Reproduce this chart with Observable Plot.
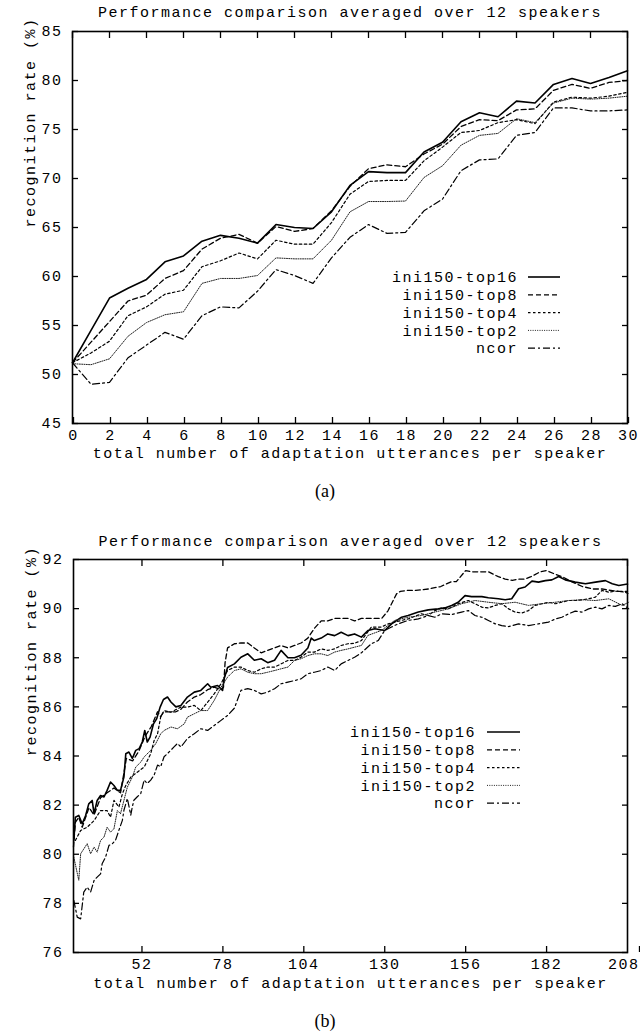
<!DOCTYPE html>
<html><head><meta charset="utf-8">
<script src="https://cdn.jsdelivr.net/npm/d3@7"></script>
<script src="https://cdn.jsdelivr.net/npm/@observablehq/plot@0.6"></script>
<style>
body{margin:0;background:#fff;width:640px;height:1036px;position:relative;overflow:hidden}
.blk{position:absolute;left:0}
.cap{position:absolute;left:0;width:650px;text-align:center;font-family:"Liberation Serif","Times New Roman",serif;font-size:18px;color:#000}
</style></head><body>
<div id="a" class="blk" style="top:0px"></div>
<div class="cap" style="top:481px">(a)</div>
<div id="b" class="blk" style="top:530px"></div>
<div class="cap" style="top:1011px">(b)</div>
<script>
// ---------- shared text ----------
const titleText = "Performance comparison averaged over 12 speakers";
const xLabel = "total number of adaptation utterances per speaker";
const yLabel = "recognition rate (%)";
const seriesNames = ["ini150-top16", "ini150-top8", "ini150-top4", "ini150-top2", "ncor"];

// ---------- chart (a) ----------
const aX = d3.range(0, 31);
const aTop16 = [51.2,54.5,57.8,58.8,59.7,61.5,62.1,63.6,64.2,63.9,63.4,65.3,65.0,64.9,66.6,69.3,70.7,70.6,70.6,72.7,73.7,75.8,76.7,76.3,77.9,77.7,79.6,80.2,79.7,80.3,81.0];
const aTop8  = [51.2,53.3,55.4,57.5,58.1,59.8,60.6,62.8,63.9,64.3,63.4,65.1,64.6,64.9,66.7,69.2,71.0,71.4,71.2,72.5,73.5,75.3,76.0,75.9,77.0,77.1,79.0,79.6,79.2,79.8,80.0];
const aTop4  = [51.2,52.2,53.4,56.0,56.9,58.2,58.6,61.0,61.6,62.4,61.8,63.7,63.3,63.3,65.5,68.4,69.7,69.8,69.8,71.8,73.2,74.7,74.9,75.7,76.0,75.6,77.8,78.3,78.2,78.4,78.8];
const aTop2  = [51.1,51.0,51.6,53.9,55.3,56.1,56.4,59.3,59.8,59.8,60.1,61.9,61.8,61.8,63.7,66.6,67.65,67.65,67.7,70.1,71.3,73.4,74.4,74.6,76.1,75.7,77.7,78.2,78.1,78.2,78.4];
const aNcor  = [51.2,49.0,49.2,51.7,53.0,54.3,53.6,56.0,56.9,56.8,58.5,60.7,60.1,59.3,61.9,64.0,65.3,64.4,64.5,66.7,67.9,70.8,71.9,72.0,74.4,74.7,77.2,77.2,76.9,76.9,77.0];
const aXTicks = d3.range(0, 31, 2);
const aYTicks = [45,50,55,60,65,70,75,80,85];

// ---------- chart (b) ----------
const bTop16X = [30.1,30.6,31.7,32.8,33.9,34.9,36.0,36.6,37.6,38.7,39.8,40.8,41.9,43.0,44.1,45.1,46.2,46.8,47.8,48.9,50.0,51.1,52.1,52.9,53.7,54.6,55.7,56.7,57.8,58.9,60.2,61.3,62.9,64.5,66.6,68.8,70.9,73.1,74.1,76.3,77.9,78.4,79.5,81.7,83.8,86.0,88.1,90.3,92.4,94.6,96.7,98.9,101.0,103.1,105.3,106.4,107.4,109.6,111.7,113.9,116.0,118.2,120.3,122.5,124.6,126.8,130.0,132.2,135.4,137.5,140.8,144.0,147.2,149.3,151.5,153.6,155.8,157.9,161.2,163.3,166.5,168.7,170.8,173.0,175.1,177.3,179.4,181.6,183.7,185.9,188.0,191.2,194.5,197.7,200.9,203.1,205.2,208];
const bTop16Y = [80.56,81.51,81.58,81.24,81.58,82.05,82.19,81.65,82.19,82.39,82.33,82.6,82.94,82.8,82.6,82.6,83.14,84.09,84.16,83.9,84.23,84.3,84.57,85.04,84.57,84.77,85.31,85.51,85.98,86.3,86.4,86.2,86.0,86.06,86.4,86.6,86.67,86.94,86.8,86.87,86.67,87.14,87.6,87.75,88.02,88.16,87.9,87.96,87.8,87.9,88.3,88.0,88.0,88.1,88.4,88.8,88.7,88.8,88.97,88.9,89.04,88.9,88.97,88.84,89.11,89.18,89.11,89.38,89.65,89.72,89.86,89.95,89.99,90.03,90.13,90.26,90.53,90.49,90.49,90.44,90.4,90.36,90.4,90.81,90.88,91.12,91.08,91.14,91.17,91.31,91.17,91.08,91.01,91.08,91.14,91.01,90.94,91.0];

const bTop8X = [30,30.6,31.7,32.8,33.9,35,36.6,38.7,40.8,43,45.1,47,49,51,53,55,57,58,59,60.2,62.9,64.5,66.6,68.8,70.9,73.1,75.2,77.3,78.2,78.7,79.5,81.7,83.8,86,88.1,90.3,92.4,94.6,96.7,98.9,101,103.1,105.3,107.4,109.6,111.7,113.9,116,118.2,120.3,122.5,124.6,126.8,129,131,133.8,135,137,140,144,148,151.5,153,156,158,161.2,163.3,166.5,168.7,171,173,175,177,180,182,184.8,187,190,193.5,197,199.8,202,205.2,208];
const bTop8Y = [80.3,81.3,81.5,81.1,81.5,81.9,81.6,82.3,82.5,82.7,82.5,83.9,83.8,84.2,84.8,85.2,85.8,85.6,85.8,85.8,85.8,85.9,86.2,86.4,86.5,86.7,86.8,86.7,86.8,87.8,88.4,88.57,88.6,88.6,88.4,88.2,88.3,88.4,88.5,88.4,88.5,88.6,88.8,89.2,89.5,89.5,89.6,89.6,89.6,89.5,89.6,89.6,89.6,89.6,89.9,90.6,90.7,90.74,90.74,90.8,90.9,91.1,91.1,91.55,91.5,91.5,91.5,91.3,91.2,91.15,91.2,91.2,91.3,91.5,91.55,91.4,91.3,91.1,90.9,90.8,90.8,90.75,90.7,90.7];

const bTop4X = [30.6,32.3,34.4,36.6,38.7,40.8,41.9,43.0,44.6,45.7,46.8,48.4,50.5,52.7,54.8,55.9,57.0,58.0,59.1,61.3,62.3,64.5,66.6,68.8,70.9,73.1,75.2,77.4,78.4,79.5,81.7,83.8,86.0,88.1,90.3,92.4,94.6,96.7,98.9,101.0,103.1,105.3,107.4,109.6,111.7,113.9,116.0,118.2,120.3,122.5,125.7,128.9,131.1,133.2,135.4,137.5,141.8,144.0,146.1,148.3,150.4,153.6,156.9,159.0,161.2,163.3,165.5,167.6,169.8,171.9,174.0,176.2,178.3,180.5,182.6,184.8,186.9,189.1,191.2,193.4,195.5,197.7,199.8,202.0,204.1,207.3,208.4];
const bTop4Y = [80.56,80.97,81.1,81.37,81.78,81.78,81.51,82.19,81.92,82.46,82.8,83.14,83.34,83.55,84.09,84.63,84.9,85.58,85.85,85.78,85.85,85.99,85.99,86.06,85.85,86.19,86.53,86.94,87.21,87.48,87.62,87.62,87.48,87.41,87.55,87.62,87.62,87.75,87.89,87.89,88.02,88.23,88.23,88.36,88.3,88.36,88.5,88.57,88.59,88.7,89.25,89.25,89.38,89.45,89.52,89.58,89.79,89.72,89.92,90.03,89.99,90.2,90.33,90.2,90.06,90.03,90.13,90.2,89.99,89.86,89.82,89.92,90.13,90.2,90.26,90.2,90.26,90.33,90.33,90.36,90.4,90.47,90.74,90.67,90.71,90.67,90.6];

const bTop2X = [30.1,31.7,32.3,34.4,35.5,36.6,37.6,38.7,39.8,40.8,41.9,43.0,44.1,45.1,46.2,47.3,48.9,50.0,51.6,52.7,54.8,56.4,58.0,59.1,61.3,63.4,65.6,66.6,68.8,70.9,73.1,75.2,77.4,79.5,80.6,81.7,83.8,86.0,88.1,90.3,92.4,94.6,96.7,98.9,101.0,103.1,105.3,107.4,109.6,111.7,113.9,116.0,118.2,120.3,122.5,124.6,128.9,133.2,137.5,141.8,146.1,150.4,154.7,159.0,163.3,167.6,171.9,176.2,180.5,184.8,189.1,193.4,197.7,202.0,206.3,208.4];
const bTop2Y = [79.88,78.94,80.02,80.43,80.02,80.29,80.09,80.56,80.7,81.1,80.9,81.04,81.78,81.65,82.19,82.73,83.14,83.55,83.75,83.96,84.23,84.5,84.9,85.04,85.18,85.11,85.31,85.58,85.72,85.85,85.85,86.26,86.8,87.21,87.35,87.48,87.55,87.41,87.35,87.35,87.41,87.48,87.55,87.62,87.89,87.96,88.09,88.16,88.16,88.09,88.23,88.3,88.36,88.43,88.5,88.91,89.11,89.52,89.65,89.72,89.86,89.99,90.2,90.33,90.26,90.2,90.26,90.13,90.2,90.26,90.33,90.36,90.33,90.4,90.13,90.26];

const bNcorX = [30.1,31.2,32.3,33.3,34.4,35.5,36.6,37.6,38.7,39.2,40.3,41.4,42.5,43.5,44.6,45.7,46.2,47.3,48.4,48.9,49.4,50.5,51.6,52.7,53.7,54.8,55.9,57.0,58.0,59.1,60.2,61.3,62.3,63.4,64.5,66.6,68.8,70.9,73.1,75.2,77.4,79.5,81.7,83.8,86.0,88.1,90.3,92.4,94.6,96.7,98.9,101.0,103.1,105.3,107.4,109.6,111.7,113.9,116.0,118.2,120.3,122.5,125.7,127.9,130.0,132.2,134.3,137.5,140.8,144.0,146.1,148.3,151.5,154.7,156.9,159.0,161.2,163.3,165.5,167.6,169.8,173.0,176.2,179.4,182.6,184.8,186.9,189.1,191.2,193.4,195.5,197.7,199.8,202.0,204.1,206.3,208.4];
const bNcorY = [78.12,77.44,77.37,78.46,78.66,78.46,78.93,79.07,79.2,79.61,79.88,80.36,80.43,80.57,80.98,81.38,81.79,82.27,81.59,81.93,82.2,82.34,82.47,83.02,82.88,83.02,83.22,83.63,83.56,83.97,84.1,84.24,84.37,84.51,84.37,84.71,84.91,85.11,85.04,85.24,85.45,85.65,85.95,86.67,86.74,86.67,86.53,86.6,86.74,86.94,87.01,87.07,87.14,87.35,87.41,87.48,87.62,87.48,87.75,87.89,88.02,88.2,88.57,88.7,89.11,89.25,89.38,89.52,89.58,89.72,89.65,89.79,89.76,89.86,89.92,89.72,89.65,89.52,89.38,89.31,89.27,89.38,89.31,89.38,89.45,89.58,89.65,89.79,89.9,89.86,89.99,90.06,89.99,90.13,90.09,90.2,89.99];
const bXTicks = [52,78,104,130,156,182,208];
const bYTicks = [76,78,80,82,84,86,88,90,92];

// ---------- styles ----------
const FONT = "Liberation Mono, Courier New, monospace";
const styles = [
  {stroke:"#000", strokeWidth:1.6, dash:null},
  {stroke:"#000", strokeWidth:1.3, dash:"5,3"},
  {stroke:"#000", strokeWidth:1.2, dash:"2.5,2.5"},
  {stroke:"#222", strokeWidth:1.0, dash:"1,1.3"},
  {stroke:"#000", strokeWidth:1.2, dash:"7,3,2,3"}
];

function toRows(xs, ys, name) { return xs.map((x, i) => ({x, y: ys[i], s: name})); }

function buildChart({series, xDomain, yDomain, xTicks, yTicks, height, margins, titleDy, xLabelDy, xTickDx, endAnchorLast, legend}) {
  const marks = [];
  series.forEach((rows, i) => {
    const st = styles[i];
    marks.push(Plot.line(rows, {x:"x", y:"y", stroke:st.stroke, strokeWidth:st.strokeWidth,
      strokeDasharray:st.dash, strokeLinejoin:"round", curve:"linear"}));
  });
  const mainXTicks = endAnchorLast ? xTicks.slice(0, -1) : xTicks;
  marks.push(
    Plot.axisX(mainXTicks, {anchor:"bottom", label:null, tickSize:-6, tickPadding:12, dx:xTickDx, tickFormat:d=>String(d), strokeWidth:1.3})
  );
  if (endAnchorLast) {
    marks.push(Plot.axisX(xTicks.slice(-1), {anchor:"bottom", label:null, tickSize:-6, tickPadding:12, textAnchor:"end", dx:12, tickFormat:d=>String(d), strokeWidth:1.3}));
  }
  marks.push(
    Plot.axisX(xTicks, {anchor:"top", label:null, tickSize:-6, tickFormat:()=> "", strokeWidth:1.3}),
    Plot.axisY(yTicks, {anchor:"left", label:null, tickSize:-6, tickPadding:16, tickFormat:d=>String(d), strokeWidth:1.3}),
    Plot.axisY(yTicks, {anchor:"right", label:null, tickSize:-6, tickFormat:()=> "", strokeWidth:1.3}),
    Plot.frame({stroke:"#000", strokeWidth:1.6}),
    Plot.text([titleText], {frameAnchor:"top", dy:titleDy, text:d=>d, lineAnchor:"middle"}),
    Plot.text([xLabel], {frameAnchor:"bottom", dy:xLabelDy, text:d=>d, lineAnchor:"middle"}),
    Plot.text([yLabel], {frameAnchor:"left", dx:-42, rotate:-90, text:d=>d, lineAnchor:"middle"})
  );
  const svg = Plot.plot({
    width:640, height,
    marginLeft:margins[0], marginRight:margins[1], marginTop:margins[2], marginBottom:margins[3],
    x:{domain:xDomain, axis:null}, y:{domain:yDomain, axis:null},
    style:{fontFamily:FONT, fontSize:"15px", letterSpacing:"1.5px", color:"#000", background:"#fff"},
    marks
  });
  // legend (inside same svg, positioned in frame pixels)
  const g = d3.select(svg).append("g").attr("font-family", FONT).attr("font-size", 15).attr("letter-spacing", "1.5px");
  seriesNames.forEach((name, i) => {
    const yy = legend.y + i * legend.dy;
    g.append("text").attr("x", legend.textRight).attr("y", yy).attr("dy", "0.35em")
      .attr("text-anchor", "end").attr("fill", "#000").text(name);
    const st = styles[i];
    g.append("line").attr("x1", legend.x1).attr("x2", legend.x2).attr("y1", yy).attr("y2", yy)
      .attr("stroke", st.stroke).attr("stroke-width", st.strokeWidth)
      .attr("stroke-dasharray", st.dash);
  });
  return svg;
}

const aSeries = [aTop16, aTop8, aTop4, aTop2, aNcor].map((ys, i) => toRows(aX, ys, seriesNames[i]));
document.getElementById("a").appendChild(buildChart({
  series: aSeries, xDomain:[0,30], yDomain:[45,85], xTicks:aXTicks, yTicks:aYTicks,
  height:470, margins:[72,13,31,47], titleDy:-19, xLabelDy:30, xTickDx:1, endAnchorLast:false,
  legend:{y:277, dy:17.8, textRight:518, x1:528, x2:560}
}));

const bSeries = [
  toRows(bTop16X, bTop16Y, seriesNames[0]),
  toRows(bTop8X, bTop8Y, seriesNames[1]),
  toRows(bTop4X, bTop4Y, seriesNames[2]),
  toRows(bTop2X, bTop2Y, seriesNames[3]),
  toRows(bNcorX, bNcorY, seriesNames[4])
];
document.getElementById("b").appendChild(buildChart({
  series: bSeries, xDomain:[30,208], yDomain:[76,92], xTicks:bXTicks, yTicks:bYTicks,
  height:480, margins:[73,13,29,58], titleDy:-18, xLabelDy:31, xTickDx:0, endAnchorLast:true,
  legend:{y:202, dy:17.8, textRight:476, x1:487, x2:520}
}));
</script>
</body></html>
